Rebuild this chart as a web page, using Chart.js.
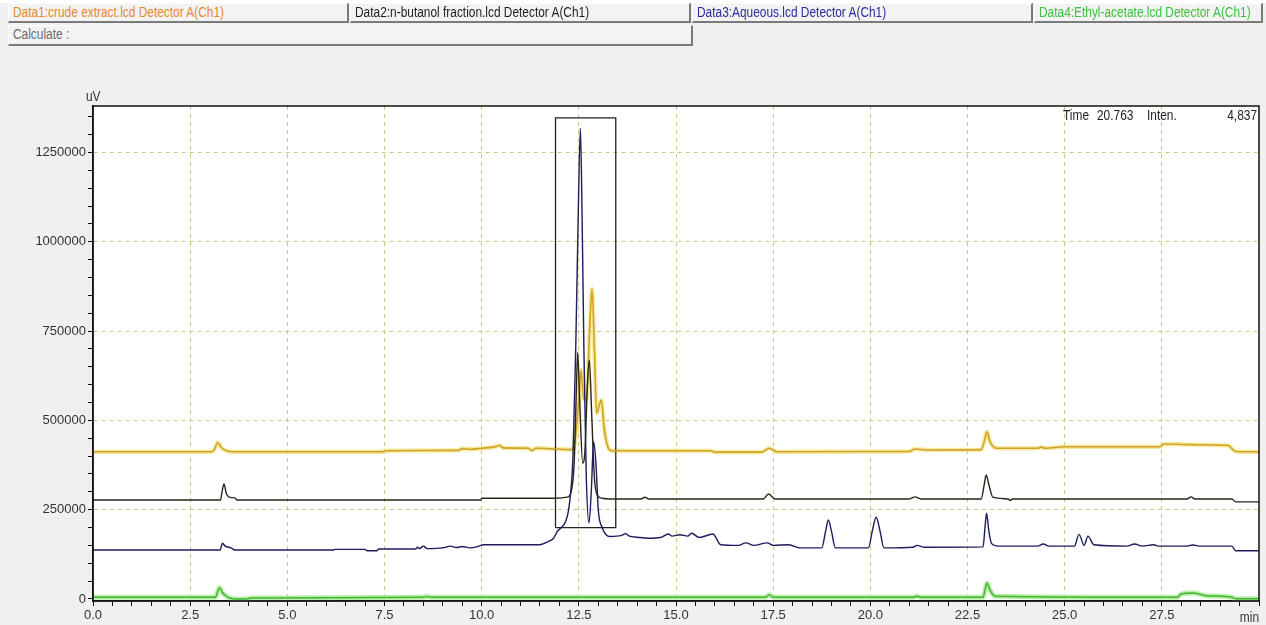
<!DOCTYPE html>
<html>
<head>
<meta charset="utf-8">
<script src="https://cdn.jsdelivr.net/npm/chart.js@4/dist/chart.umd.min.js"></script>
<style>
  html, body { margin:0; padding:0; }
  body { width:1266px; height:625px; background:#f0f0f0; position:relative; overflow:hidden;
         font-family:'Liberation Sans',Arial,sans-serif; }
  #topband { position:absolute; left:0; top:0; width:1266px; height:3px; background:#fff; }
  .btn { position:absolute; box-sizing:border-box; background:#f3f3f3; font-size:14px; line-height:17px;
         padding-left:4px; white-space:nowrap; overflow:hidden;
         border-top:1px solid #fdfdfd; border-left:1px solid #fdfdfd;
         border-right:2px solid #7a7a7a; border-bottom:2px solid #7a7a7a; z-index:2; }
  .btn span { display:inline-block; transform:scaleX(0.85); transform-origin:0 50%; }
  #wrap { position:absolute; left:0; top:0; width:1266px; height:625px; z-index:1; }
</style>
</head>
<body>
<div id="topband"></div>
<div class="btn" style="left:8px;top:3px;width:341px;height:20px;color:#e8882e;"><span>Data1:crude extract.lcd Detector A(Ch1)</span></div>
<div class="btn" style="left:350px;top:3px;width:341px;height:20px;color:#1e1e1e;"><span>Data2:n-butanol fraction.lcd Detector A(Ch1)</span></div>
<div class="btn" style="left:692px;top:3px;width:341px;height:20px;color:#2b2b9c;"><span>Data3:Aqueous.lcd Detector A(Ch1)</span></div>
<div class="btn" style="left:1034px;top:3px;width:229px;height:20px;color:#3cc23c;"><span>Data4:Ethyl-acetate.lcd Detector A(Ch1)</span></div>
<div class="btn" style="left:8px;top:25px;width:685px;height:21px;color:#6a6a6a;"><span>Calculate :</span></div>
<div id="wrap"><canvas id="c" width="1266" height="625"></canvas></div>
<script>
// ---------- data ----------
const crudeTime = [0,3.05,3.13,3.21,3.3,3.45,3.6,7.45,7.5,9.4,9.5,9.7,10.0,10.35,10.46,10.55,11.2,11.3,11.4,11.9,12.3,12.4,12.5,12.56,12.62,12.7,12.78,12.84,12.9,12.96,13.02,13.08,13.15,13.25,13.35,15.9,16.0,17.2,17.4,17.6,21.0,21.15,21.5,22.85,22.93,23.0,23.08,23.25,24.3,24.4,24.5,25.0,27.45,27.55,28.3,29.2,29.4,30];
const crudeValues = [412000,412000,420000,438000,424000,414000,412000,412000,415000,416000,421000,419000,422000,426000,430000,423000,422000,416000,422000,420000,418000,440000,560000,640000,560000,560000,760000,868000,700000,520000,540000,557000,480000,425000,415000,415000,411000,411000,422000,412000,413000,420000,417000,418000,440000,468000,440000,422000,422000,425000,422000,426000,426000,434000,432000,430000,413000,412000];

const butanolTime = [0,3.28,3.32,3.37,3.43,3.5,3.65,3.7,9.98,10.0,11.9,12.2,12.3,12.38,12.43,12.47,12.52,12.6,12.66,12.72,12.77,12.83,12.9,12.98,13.1,13.3,14.1,14.2,14.3,17.25,17.38,17.55,21.0,21.15,21.3,22.85,22.93,22.98,23.05,23.15,23.55,23.6,23.65,28.15,28.25,28.35,29.3,29.4,30];
const butanolValues = [277000,277000,300000,322000,295000,285000,283000,277000,277000,282000,282000,285000,300000,380000,560000,691000,560000,380000,420000,600000,669000,520000,340000,290000,282000,280000,280000,285000,280000,280000,294000,280000,280000,286000,280000,280000,320000,347000,320000,285000,280000,276000,280000,280000,286000,280000,280000,272000,272000];

const aqueousTime = [0,3.27,3.33,3.4,3.55,3.65,6.2,6.22,7.0,7.05,7.3,7.35,8.3,8.35,8.4,8.5,8.6,9.0,9.2,9.35,9.5,9.7,9.9,10.05,11.5,11.7,11.85,11.95,12.05,12.15,12.25,12.35,12.42,12.48,12.54,12.58,12.63,12.69,12.76,12.82,12.88,12.94,13.0,13.1,13.2,13.3,13.6,13.7,13.8,14.0,14.3,14.6,14.8,14.9,15.1,15.3,15.4,15.6,15.95,16.15,16.6,16.8,17.0,17.35,17.5,17.9,18.2,18.75,18.85,18.92,19.0,19.1,19.95,20.05,20.15,20.25,20.35,21.1,21.2,21.4,22.9,22.95,22.99,23.05,23.12,23.3,24.3,24.45,24.6,25.25,25.37,25.5,25.6,25.75,26.6,26.8,27.0,27.3,27.4,28.1,28.3,28.5,29.3,29.4,30];
const aqueousValues = [137000,137000,156000,148000,143000,137000,137000,139000,139000,135000,135000,140000,140000,145000,141000,148000,141000,143000,148000,144000,147000,143000,147000,152000,152000,160000,170000,190000,200000,215000,260000,400000,700000,1050000,1318000,1100000,700000,350000,213000,300000,440000,380000,250000,200000,180000,175000,178000,183000,176000,173000,170000,172000,182000,176000,180000,176000,184000,172000,182000,152000,150000,157000,150000,157000,150000,152000,143000,143000,190000,221000,190000,143000,143000,190000,229000,190000,143000,145000,150000,145000,146000,200000,240000,190000,155000,148000,148000,154000,148000,148000,181000,150000,176000,152000,148000,154000,148000,152000,148000,148000,151000,148000,148000,135000,135000];

const ethylTime = [0,3.15,3.22,3.26,3.33,3.45,3.6,3.9,4.1,8.5,8.6,8.7,17.3,17.4,17.5,21.1,21.2,21.3,22.9,22.96,23.0,23.08,23.2,27.9,28.0,28.3,28.6,29.3,29.4,30];
const ethylValues = [4800,4800,25000,31600,18000,6000,1000,0,3000,4800,7000,4800,4800,12000,4800,4800,8000,4800,4800,30000,44000,25000,8000,5000,14000,17000,10000,4800,1000,1000];

const highlightBox = { t0: 11.9, t1: 13.45, v0: 200000, v1: 1347000 };

const xTickLabels = ['0.0','2.5','5.0','7.5','10.0','12.5','15.0','17.5','20.0','22.5','25.0','27.5'];
const yTickLabels = ['0','250000','500000','750000','1000000','1250000'];
const xMinorStep = 0.5, yMinorStep = 50000;
const cursorReadout = ['Time', '20.763', 'Inten.', '4,837'];

// ---------- build ----------
const pts = (t, v) => t.map((x, i) => ({ x, y: v[i] }));
const boxPts = [
  { x: highlightBox.t0, y: highlightBox.v0 }, { x: highlightBox.t1, y: highlightBox.v0 },
  { x: highlightBox.t1, y: highlightBox.v1 }, { x: highlightBox.t0, y: highlightBox.v1 },
  { x: highlightBox.t0, y: highlightBox.v0 }
];
const xMajor = xTickLabels.map(Number);
const yMajor = yTickLabels.map(Number);
const near = (a, b) => Math.abs(a - b) < 1e-6;

const FONT = "'Liberation Sans',Arial,sans-serif";
const GRID = '#cdc67e';

const smooth = { cubicInterpolationMode: 'monotone', pointRadius: 0, fill: false };

function narrowText(ctx, text, x, y, align, sx) {
  ctx.save();
  ctx.translate(x, y);
  ctx.scale(sx, 1);
  ctx.textAlign = align;
  ctx.fillText(text, 0, 0);
  ctx.restore();
}

const framePlugin = {
  id: 'frame',
  beforeDraw(chart) {
    const { ctx, chartArea: a } = chart;
    ctx.save();
    ctx.fillStyle = '#ffffff';
    ctx.fillRect(a.left, a.top, a.right - a.left, a.bottom - a.top);
    ctx.restore();
  },
  afterDraw(chart) {
    const { ctx, chartArea: a } = chart;
    ctx.save();
    ctx.strokeStyle = '#111';
    ctx.lineWidth = 1.5;
    ctx.strokeRect(a.left, a.top, a.right - a.left, a.bottom - a.top);
    ctx.fillStyle = '#333';
    ctx.font = '14px ' + FONT;
    ctx.textBaseline = 'middle';
    narrowText(ctx, 'uV', a.left - 7, a.top - 9, 'left', 0.85);
    narrowText(ctx, 'min', a.right, a.bottom + 17, 'right', 0.85);
    ctx.fillStyle = '#222';
    narrowText(ctx, cursorReadout[0], a.left + 970, a.top + 10, 'left', 0.85);
    narrowText(ctx, cursorReadout[1], a.left + 1004, a.top + 10, 'left', 0.85);
    narrowText(ctx, cursorReadout[2], a.left + 1054, a.top + 10, 'left', 0.85);
    narrowText(ctx, cursorReadout[3], a.right - 2, a.top + 10, 'right', 0.85);
    ctx.restore();
  }
};

new Chart(document.getElementById('c'), {
  type: 'line',
  data: {
    datasets: [
      { label: 'Aqueous', data: pts(aqueousTime, aqueousValues), borderColor: '#1c1c5e', borderWidth: 1.4, ...smooth },
      { label: 'n-butanol', data: pts(butanolTime, butanolValues), borderColor: '#2a2416', borderWidth: 1.4, ...smooth },
      { label: 'crude', data: pts(crudeTime, crudeValues), borderColor: '#cfa22c', borderWidth: 1.6, ...smooth },
      { label: 'ethyl', data: pts(ethylTime, ethylValues), borderColor: '#44b434', borderWidth: 1.5, ...smooth },
      { label: 'box', data: boxPts, borderColor: '#222', borderWidth: 1.3, pointRadius: 0, tension: 0, fill: false },
      { label: 'crude halo', data: pts(crudeTime, crudeValues), borderColor: 'rgba(244,226,120,0.7)', borderWidth: 4.5, ...smooth },
      { label: 'ethyl halo', data: pts(ethylTime, ethylValues), borderColor: 'rgba(165,235,145,0.8)', borderWidth: 5, ...smooth }
    ]
  },
  options: {
    responsive: false,
    animation: false,
    events: [],
    layout: { padding: { left: 0, top: 106, right: 7, bottom: 0 } },
    plugins: { legend: { display: false }, tooltip: { enabled: false } },
    scales: {
      x: {
        type: 'linear', min: 0, max: 30,
        afterFit: s => { s.height = 24; },
        afterBuildTicks: s => {
          const t = [];
          for (let v = 0; v <= 30 + 1e-9; v += xMinorStep) t.push({ value: Math.round(v * 10) / 10 });
          s.ticks = t;
        },
        ticks: {
          autoSkip: false, maxRotation: 0, padding: 2, color: '#333',
          font: { family: FONT, size: 13 },
          callback: v => { const i = xMajor.findIndex(m => near(m, v)); return i >= 0 ? xTickLabels[i] : ''; }
        },
        grid: {
          drawOnChartArea: true, tickLength: 5, tickColor: '#111', tickWidth: 1, tickBorderDash: [0, 0],
          lineWidth: 1,
          color: c => (c.tick && xMajor.some(m => near(m, c.tick.value)) && c.tick.value > 0) ? GRID : 'rgba(0,0,0,0)'
        },
        border: { display: true, color: '#111', width: 1.5, dash: [4, 4] }
      },
      y: {
        type: 'linear', min: -5600, max: 1380000,
        afterFit: s => { s.width = 93; },
        afterBuildTicks: s => {
          const t = [];
          for (let v = 0; v <= 1350000; v += yMinorStep) t.push({ value: v });
          s.ticks = t;
        },
        ticks: {
          autoSkip: false, padding: 2, color: '#333',
          font: { family: FONT, size: 13 },
          callback: v => { const i = yMajor.findIndex(m => near(m, v)); return i >= 0 ? yTickLabels[i] : ''; }
        },
        grid: {
          drawOnChartArea: true, tickLength: 5, tickColor: '#111', tickWidth: 1, tickBorderDash: [0, 0],
          lineWidth: 1,
          color: c => (c.tick && yMajor.some(m => near(m, c.tick.value)) && c.tick.value > 0) ? GRID : 'rgba(0,0,0,0)'
        },
        border: { display: true, color: '#111', width: 1.5, dash: [4, 4] }
      }
    }
  },
  plugins: [framePlugin]
});
</script>
</body>
</html>
